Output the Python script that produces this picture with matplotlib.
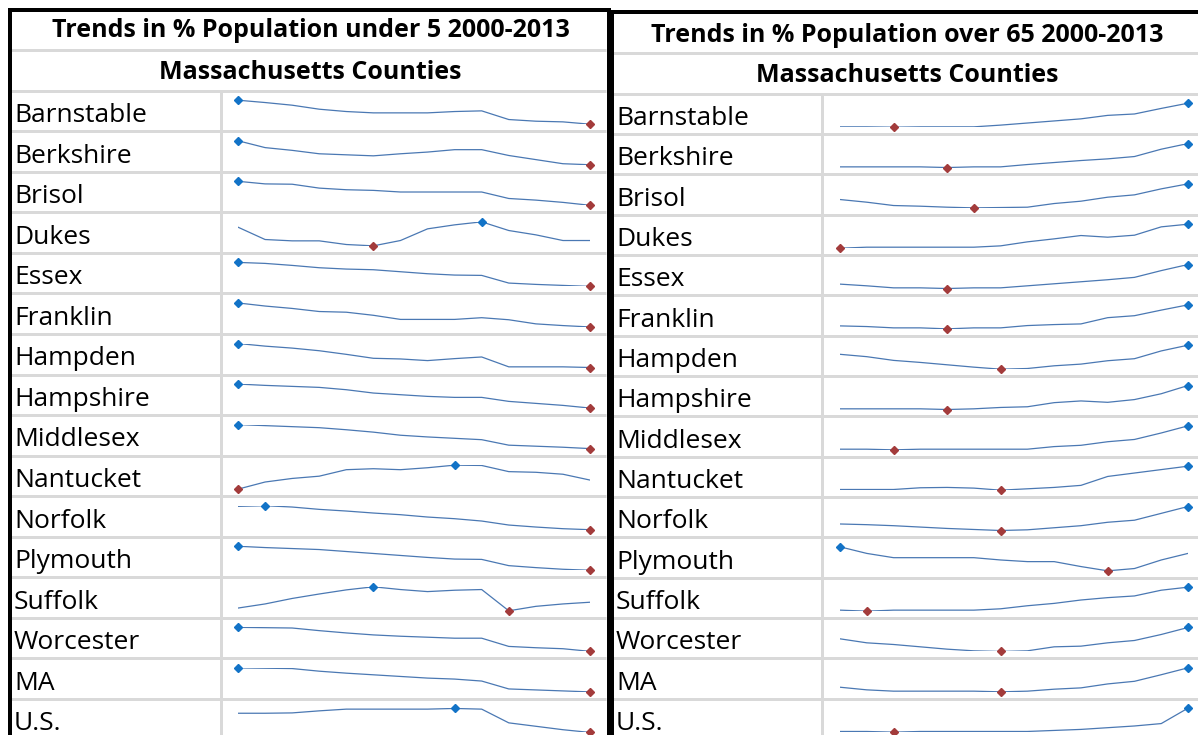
import matplotlib.pyplot as plt

W, H = 1198, 735

years = list(range(2000, 2014))
counties = ["Barnstable", "Berkshire", "Brisol", "Dukes", "Essex", "Franklin",
            "Hampden", "Hampshire", "Middlesex", "Nantucket", "Norfolk",
            "Plymouth", "Suffolk", "Worcester", "MA", "U.S."]

# relative levels (every row is scaled on its own)
under5 = [
    [72, 65, 57, 45, 38, 34, 34, 34, 38, 40, 14, 9, 7, 0],
    [70, 50, 42, 32, 29, 26, 32, 37, 44, 44, 27, 15, 3, 0],
    [74, 66, 65, 53, 48, 46, 41, 41, 41, 41, 21, 16, 9, 0],
    [56, 19, 15, 15, 4, 0, 16, 51, 63, 72, 46, 33, 16, 16],
    [72, 69, 63, 56, 52, 50, 44, 38, 34, 33, 10, 6, 3, 0],
    [70, 61, 54, 45, 43, 34, 22, 22, 22, 27, 21, 9, 4, 0],
    [73, 65, 59, 51, 40, 28, 26, 21, 27, 32, 2, 2, 2, 0],
    [72, 68, 65, 62, 55, 45, 40, 35, 32, 32, 20, 14, 8, 0],
    [70, 67, 64, 61, 55, 48, 39, 34, 30, 26, 10, 7, 4, 0],
    [0, 22, 33, 40, 60, 63, 60, 66, 74, 73, 54, 52, 46, 28],
    [70, 72, 68, 61, 56, 50, 45, 38, 33, 26, 14, 8, 3, 0],
    [73, 69, 66, 63, 57, 51, 45, 39, 34, 33, 14, 8, 3, 0],
    [8, 20, 36, 49, 61, 70, 62, 56, 60, 62, 0, 13, 20, 25],
    [73, 72, 71, 63, 56, 50, 46, 43, 40, 40, 15, 11, 8, 0],
    [73, 72, 71, 63, 57, 52, 47, 42, 39, 33, 9, 6, 3, 0],
    [56, 56, 57, 63, 68, 68, 68, 68, 70, 68, 28, 18, 8, 0],
]

over65 = [
    [1, 1, 0, 1, 1, 1, 6, 12, 18, 24, 34, 38, 54, 69],
    [2, 2, 2, 2, 0, 2, 2, 9, 15, 21, 26, 33, 55, 72],
    [25, 17, 7, 5, 2, 0, 1, 2, 13, 20, 32, 39, 57, 72],
    [0, 3, 3, 3, 3, 3, 7, 19, 28, 38, 33, 39, 64, 72],
    [13, 8, 2, 2, 0, 2, 2, 8, 14, 20, 26, 33, 53, 71],
    [9, 7, 3, 3, 0, 3, 3, 10, 13, 15, 34, 40, 57, 73],
    [44, 37, 26, 20, 13, 6, 0, 2, 10, 15, 25, 31, 54, 71],
    [2, 2, 2, 2, 0, 2, 6, 8, 20, 25, 21, 29, 46, 70],
    [2, 2, 0, 2, 2, 2, 2, 2, 10, 14, 25, 32, 52, 74],
    [2, 2, 2, 7, 8, 6, 0, 4, 8, 14, 40, 50, 60, 70],
    [19, 17, 14, 10, 6, 3, 0, 2, 8, 14, 24, 30, 50, 70],
    [73, 53, 40, 40, 40, 40, 33, 28, 28, 13, 0, 7, 33, 53],
    [3, 0, 3, 3, 3, 3, 7, 16, 23, 33, 40, 45, 62, 71],
    [38, 26, 21, 14, 7, 2, 0, 2, 14, 16, 26, 33, 51, 72],
    [14, 6, 2, 2, 2, 2, 0, 2, 8, 12, 24, 32, 52, 73],
    [2, 2, 0, 2, 2, 2, 2, 2, 5, 8, 13, 18, 25, 70],
]

FONT = ['Open Sans', 'DejaVu Sans']
GRID = '#d9d9d9'
LINE = '#4a78b3'
HIGH = '#1273c7'
LOW = '#a33b3b'


def pt(p):
    # pixels -> points at dpi 100
    return p * 0.72


fig = plt.figure(figsize=(W / 100, H / 100), dpi=100)
bg = fig.add_axes([0, 0, 1, 1])
bg.set_xlim(0, W)
bg.set_ylim(H, 0)
bg.axis('off')


def draw_table(x0, x1, top, sep1, row0, step, col_x, sx0, sx1,
               title, t1_base, t2_base, data):
    # gray grid
    bg.hlines(sep1, x0, x1, color=GRID, lw=pt(3))
    for k in range(len(counties)):
        bg.hlines(row0 + k * step, x0, x1, color=GRID, lw=pt(3))
    bg.vlines(col_x, row0, H, color=GRID, lw=pt(3))

    cx = (x0 + x1) / 2 + 2
    bg.text(cx, t1_base, title, ha='center', va='baseline', fontsize=18,
            fontweight='bold', family=FONT)
    bg.text(cx, t2_base, "Massachusetts Counties", ha='center', va='baseline',
            fontsize=18, fontweight='bold', family=FONT)

    for k, name in enumerate(counties):
        rt = row0 + k * step
        bg.text(x0 + 3, rt + 31.3, name, ha='left', va='baseline',
                fontsize=19, family=FONT)

        vals = data[k]
        sax = fig.add_axes([sx0 / W, 1 - (rt + 33.5) / H, (sx1 - sx0) / W, 24 / H])
        sax.plot(years, vals, color=LINE, lw=0.9)
        imax = vals.index(max(vals))
        imin = vals.index(min(vals))
        sax.plot(years[imax], vals[imax], 'D', color=HIGH, ms=3.8, clip_on=False)
        sax.plot(years[imin], vals[imin], 'D', color=LOW, ms=3.8, clip_on=False)
        sax.set_xlim(years[0], years[-1])
        sax.set_ylim(min(vals), max(vals))
        sax.axis('off')


draw_table(11, 606, 9.5, 50, 90.7, 40.55, 220.5, 238, 590,
           "Trends in % Population under 5 2000-2013", 37, 78.5, under5)
draw_table(613, W, 11.5, 53.3, 93.7, 40.33, 821.5, 840, 1188,
           "Trends in % Population over 65 2000-2013", 42, 81.5, over65)

# black outer borders
bg.hlines(9.5, 7.5, 610.5, color='black', lw=pt(4))
bg.vlines(9.5, 7.5, H, color='black', lw=pt(4))
bg.vlines(608.5, 7.5, H, color='black', lw=pt(4))
bg.hlines(11.5, 610, W, color='black', lw=pt(4))
bg.vlines(611.5, 9.5, H, color='black', lw=pt(3))

fig.savefig('out.png', dpi=100)
